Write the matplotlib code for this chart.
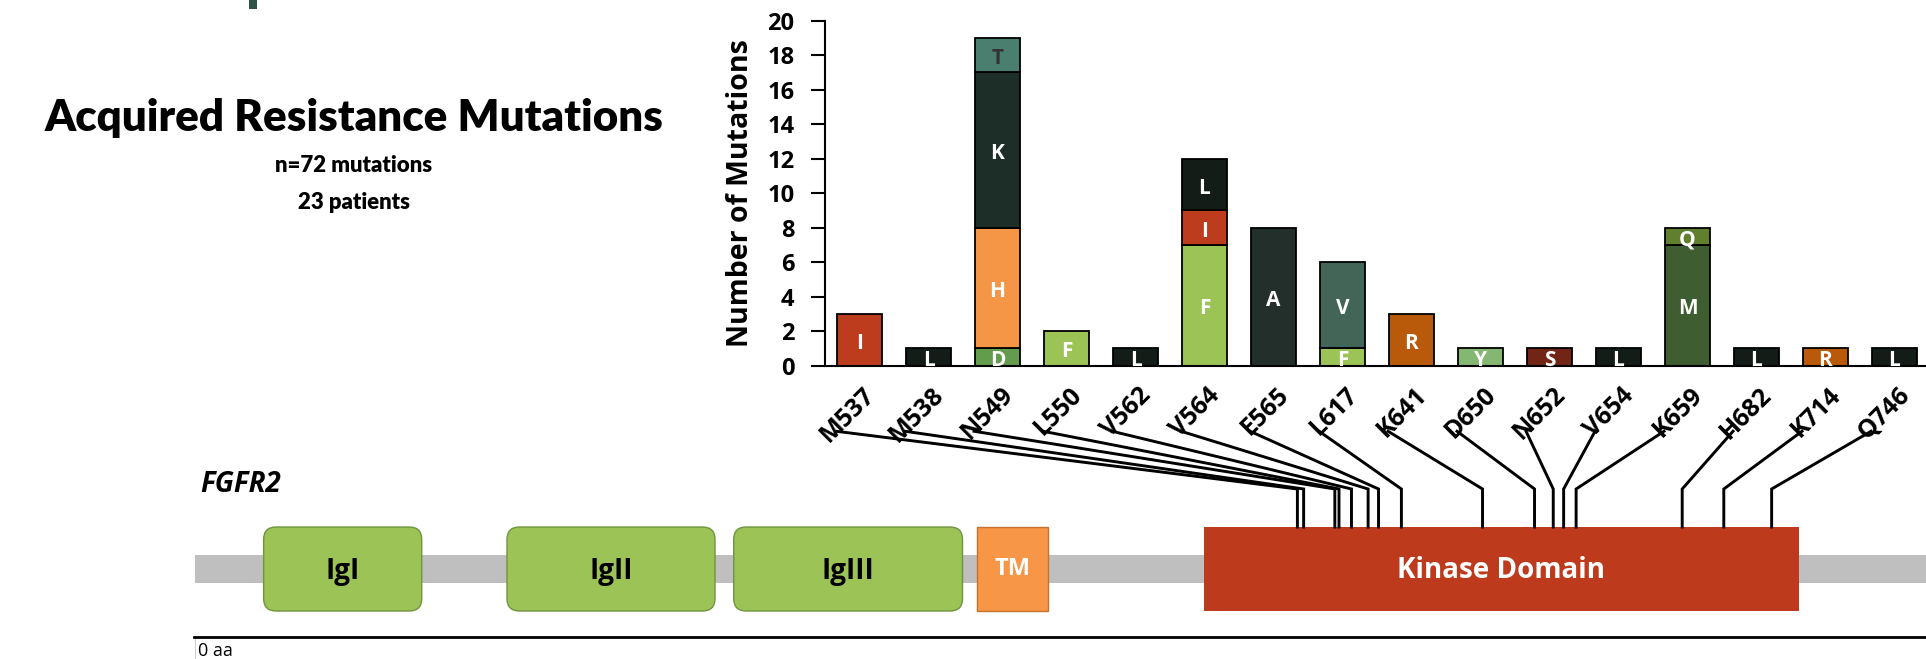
import matplotlib
matplotlib.use('Agg')
import numpy as np
import matplotlib.pyplot as plt
from matplotlib import font_manager
from matplotlib.patches import Rectangle, FancyBboxPatch
from matplotlib.lines import Line2D
from matplotlib.transforms import ScaledTranslation

plt.rcParams['font.family'] = ['Open Sans', 'DejaVu Sans']

# mutated residues and the substitutions found at each one (stacked bottom -> top)
positions = ['M537', 'M538', 'N549', 'L550', 'V562', 'V564', 'E565', 'L617',
             'K641', 'D650', 'N652', 'V654', 'K659', 'H682', 'K714', 'Q746']
seg_letters = [['I'], ['L'], ['D', 'H', 'K', 'T'], ['F'], ['L'], ['F', 'I', 'L'],
               ['A'], ['F', 'V'], ['R'], ['Y'], ['S'], ['L'], ['M', 'Q'],
               ['L'], ['R'], ['L']]
seg_counts = [[3], [1], [1, 7, 9, 2], [2], [1], [7, 2, 3],
              [8], [1, 5], [3], [1], [1], [1], [7, 1],
              [1], [1], [1]]
letter_colors = {'I': '#be3c1e', 'L': '#141c18', 'D': '#639c4d', 'H': '#f59646',
                 'K': '#1c2e27', 'T': '#4a7e6f', 'F': '#9bc356', 'A': '#232f2a',
                 'V': '#436558', 'R': '#b85a0a', 'Y': '#84b771', 'S': '#722515',
                 'M': '#3e5d31', 'Q': '#60802d'}

# FGFR2 domain map (aa)
domain_names = ['IgI', 'IgII', 'IgIII', 'TM', 'Kinase Domain']
domain_start = [33, 150, 259, 376, 485]
domain_end = [109, 250, 369, 410, 771]
# where each residue's connector lands on the schematic (aa)
landing_aa = [530, 533, 548, 550, 556, 564, 569, 580,
              619, 644, 653, 658, 664, 715, 735, 758]

W, H = 1926, 659


def fx(px):
    return px / W


def fy(py):
    return 1 - py / H


fig = plt.figure(figsize=(W / 100, H / 100), dpi=100)

# ---- stacked bar chart ----
ax = fig.add_axes([fx(825), fy(365.7), 1104 / W, 345 / H])
for i in range(len(positions)):
    bottom = 0
    for letter, n in zip(seg_letters[i], seg_counts[i]):
        ax.bar(i, n, bottom=bottom, width=0.65, color=letter_colors[letter],
               edgecolor='black', linewidth=1.3, zorder=2)
        mid = bottom + n / 2
        ax.annotate(letter, xy=(i, mid), xytext=(0, -9), textcoords='offset pixels',
                    ha='center', va='baseline', fontsize=15, fontweight='bold',
                    color='#333333' if letter == 'T' else 'white', zorder=3)
        bottom += n

ax.set_xlim(-0.5, 15.5)
ax.set_ylim(0, 20)
ax.set_yticks(range(0, 21, 2))
ax.tick_params(axis='y', length=10, width=1.5, pad=12, labelsize=17)
for lbl in ax.get_yticklabels():
    lbl.set_fontweight('bold')
ax.set_xticks(range(len(positions)))
ax.set_xticklabels(positions, rotation=45, ha='right', rotation_mode='anchor',
                   fontsize=18, fontweight='bold')
ax.tick_params(axis='x', length=0, pad=12)
shift = ScaledTranslation(0.03, 0, fig.dpi_scale_trans)
for lbl in ax.get_xticklabels():
    lbl.set_transform(lbl.get_transform() + shift)
for side in ['top', 'right']:
    ax.spines[side].set_visible(False)
ax.spines['left'].set_linewidth(1.5)
ax.spines['bottom'].set_linewidth(1.5)
ax.set_ylabel('Number of Mutations', fontsize=20.5, fontweight='bold')
ax.yaxis.set_label_coords(-0.0765, 0.5)
ax.yaxis.label.set_va('center')

# ---- protein schematic ----
aa_px = 2.08
axp = fig.add_axes([fx(195), 0, (W - 195) / W, (H - 420) / H])
axp.set_xlim(0, (W - 195) / aa_px)
axp.set_ylim(-90, 149)
axp.axis('off')

axp.add_patch(Rectangle((0, -14), 900, 28, facecolor='#bfbfbf', linewidth=0))
for name, s, e in zip(domain_names, domain_start, domain_end):
    if name.startswith('Ig'):
        box = FancyBboxPatch((s, -42), e - s, 84,
                             boxstyle='round,pad=0,rounding_size=6',
                             mutation_aspect=aa_px, facecolor='#9bc356',
                             edgecolor='#71943f', linewidth=1)
        axp.add_patch(box)
        axp.text((s + e) / 2, -2, name, ha='center', va='center',
                 fontsize=20, fontweight='bold', color='black')
    elif name == 'TM':
        axp.add_patch(Rectangle((s, -42), e - s, 84, facecolor='#f79646',
                                edgecolor='#c5712f', linewidth=1))
        axp.text((s + e) / 2, 0, name, ha='center', va='center',
                 fontsize=17, fontweight='bold', color='white')
    else:
        axp.add_patch(Rectangle((s, -42), e - s, 84, facecolor='#bd3b1c',
                                linewidth=0))
        axp.text((s + e) / 2, -2, name, ha='center', va='center',
                 fontsize=20, fontweight='bold', color='white')

axp.text(2.4, 77, 'FGFR2', fontsize=20, fontweight='bold', style='italic',
         ha='left', va='baseline')
axp.plot([-0.5, 900], [-68, -68], color='black', linewidth=2, clip_on=False)
axp.plot([-0.5, -0.5], [-68, -100], color='black', linewidth=1)
axp.text(1.5, -73, '0 aa', fontsize=13, ha='left', va='top')

# connectors from residue labels down to the kinase domain
to_fig = fig.transFigure.inverted()
for i, aa in enumerate(landing_aa):
    p0 = ax.transData.transform((i - 0.34, -3.8))
    p1 = axp.transData.transform((aa, 80))
    p2 = axp.transData.transform((aa, 42))
    pts = to_fig.transform(np.array([p0, p1, p2]))
    fig.add_artist(Line2D(pts[:, 0], pts[:, 1], color='black', linewidth=2.1,
                          solid_joinstyle='miter'))

# ---- headings ----
names = {f.name for f in font_manager.fontManager.ttflist}
head_family = 'Lato' if 'Lato' in names else 'Open Sans'

renderer = fig.canvas.get_renderer()


def fit_width(txt, target_px):
    w = txt.get_window_extent(renderer).width
    txt.set_fontsize(txt.get_fontsize() * target_px / w)


title = fig.text(fx(354), fy(131), 'Acquired Resistance Mutations', ha='center',
                 va='baseline', fontsize=30, fontweight='heavy', family=head_family)
fit_width(title, 618)
sub1 = fig.text(fx(354), fy(172), 'n=72 mutations', ha='center', va='baseline',
                fontsize=17, fontweight='heavy', family=head_family)
fit_width(sub1, 158)
sub2 = fig.text(fx(354), fy(209), '23 patients', ha='center', va='baseline',
                fontsize=17, fontweight='heavy', family=head_family)
sub2.set_fontsize(sub1.get_fontsize())

fig.add_artist(Rectangle((fx(249), fy(9)), 8 / W, 9 / H, transform=fig.transFigure,
                         facecolor='#2f5248', linewidth=0))

fig.savefig('out.png', dpi=100)
